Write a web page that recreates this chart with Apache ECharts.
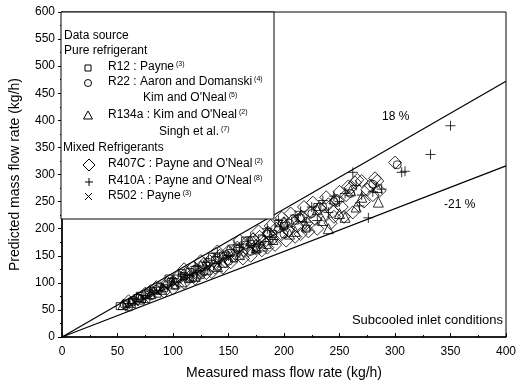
<!DOCTYPE html>
<html>
<head>
<meta charset="utf-8">
<script src="https://cdn.jsdelivr.net/npm/echarts@6/dist/echarts.min.js"></script>
<style>
  html, body { margin: 0; padding: 0; background: #fff; }
  #chart { width: 525px; height: 385px; }
</style>
</head>
<body>
<div id="chart"></div>
<script>
// axis ticks
const xTicks = [0, 50, 100, 150, 200, 250, 300, 350, 400];
const yTicks = [0, 50, 100, 150, 200, 250, 300, 350, 400, 450, 500, 550, 600];

// error bound lines (measured, predicted)
const upperLine = [[0, 0], [400, 472]];   // +18 %
const lowerLine = [[0, 0], [400, 316]];   // -21 %

// R12 : Payne
const r12 = [[52,57],[58,62],[63,65],[68,72],[72,70],[78,82],[82,85],[88,92],[92,90],[98,102],
  [104,108],[110,112],[115,120],[122,126],[130,132],[138,142],[145,150],[152,155],[160,165],
  [170,172],[180,182],[190,190],[200,205],[118,110],[140,130],
  [60,55],[70,76],[76,70],[86,80],[96,108],[102,95],[108,118],[125,115],[135,148],[155,145],
  [165,178],[175,160],[185,170],[195,210],[210,215],[220,200],[230,240]];
// R22 : Aaron and Domanski, Kim and O'Neal
const r22 = [[56,60],[64,68],[75,78],[85,88],[95,98],[108,112],[120,125],[132,138],[148,152],
  [165,170],[185,190],[205,210],[225,228],[245,250],[302,318],[150,140],[175,165],[200,190],
  [70,72],[80,76],[100,104],[115,108],[128,120],[140,146],[158,162],[170,158],[195,200],
  [215,220],[235,240],[260,265],[280,282]];
// R134a : Kim and O'Neal, Singh et al.
const r134a = [[55,60],[62,64],[70,70],[80,80],[90,88],[100,98],[115,110],[130,125],[145,138],
  [160,152],[175,165],[190,180],[205,190],[220,205],[235,215],[250,228],[255,221],[265,240],
  [284,276],[285,249],[240,200],
  [108,102],[125,132],[150,160],[170,178],[185,195],[200,212],[215,222],[230,235],[245,255],
  [260,270],[120,112],[140,130],[180,168],[210,195],[270,258]];
// R407C : Payne and O'Neal
const r407c = [[95,100],[105,112],[112,118],[118,128],[122,115],[128,135],[133,140],[138,128],
  [142,150],[147,140],[150,158],[155,150],[158,165],[162,155],[165,172],[168,160],[172,180],
  [175,168],[178,185],[182,175],[186,192],[190,182],[193,200],[197,188],[200,210],[204,196],
  [208,215],[212,205],[216,222],[220,210],[224,230],[228,218],[232,238],[236,225],[240,245],
  [244,232],[248,252],[252,240],[256,262],[260,275],[264,285],[270,288],[275,272],[282,293],
  [284,288],[300,322],[135,120],[185,165],[215,190],[245,222],[80,85],[88,90],
  [100,90],[110,125],[120,108],[125,140],[130,118],[140,158],[145,128],[152,138],[160,178],
  [163,145],[170,150],[177,195],[180,160],[188,205],[192,170],[198,220],[202,178],[206,228],
  [210,185],[218,240],[222,195],[226,248],[230,200],[238,258],[242,210],[250,268],[254,222],
  [258,278],[262,230],[266,290],[272,250],[278,280],[280,262],[286,270],[110,100],[85,92],
  [92,84],[75,80],[68,70],[60,66]];
// R410A : Payne and O'Neal
const r410a = [[65,70],[80,85],[100,108],[120,130],[140,155],[155,170],[170,185],[185,200],
  [195,215],[210,225],[225,240],[235,252],[245,260],[262,304],[268,242],[276,220],[288,273],
  [306,304],[309,306],[332,337],[350,390],[255,265],[230,215],[200,200],[150,150],
  [90,92],[110,115],[130,138],[160,165],[175,172],[190,180],[215,232],[220,212],[240,230],
  [250,250],[265,280],[280,268],[270,262],[60,62],[75,72]];
// R502 : Payne
const r502 = [[58,58],[66,64],[74,72],[82,80],[90,86],[98,95],[106,102],[114,110],[122,118],
  [130,128],[140,135],[150,145],
  [62,60],[70,68],[78,76],[86,84],[94,92],[102,98],[110,106],[118,114],[126,122],[135,132],
  [145,142],[160,155],[170,165],[180,175]];

const FONT = '"Liberation Sans", Arial, sans-serif';
const plusPath = 'path://M5,0L5,10M0,5L10,5';
const crossPath = 'path://M0,0L10,10M0,10L10,0';

const chart = echarts.init(document.getElementById('chart'));

function scatter(name, data, symbol, size) {
  return {
    name: name,
    type: 'scatter',
    data: data,
    symbol: symbol,
    symbolSize: size,
    z: 3,
    itemStyle: { color: 'rgba(255,255,255,0)', borderColor: '#000', borderWidth: 1 },
    emphasis: { disabled: true }
  };
}

function line(data) {
  return {
    type: 'line',
    data: data,
    symbol: 'none',
    z: 2,
    lineStyle: { color: '#000', width: 1.2 }
  };
}

// legend text lines
const legendRich = {
  t: { fontFamily: FONT, fontSize: 12, color: '#000' },
  s: { fontFamily: FONT, fontSize: 7, color: '#000', verticalAlign: 'top', padding: [0, 0, 0, 2] }
};
function ltext(x, y, str) {
  return { type: 'text', left: x, top: y, z: 11,
    style: { text: str, rich: legendRich, fontFamily: FONT, fontSize: 12, fill: '#000' } };
}
const iconStyle = { fill: 'none', stroke: '#000', lineWidth: 1 };

const option = {
  animation: false,
  textStyle: { fontFamily: FONT },
  grid: { left: 61, right: 19, top: 12, bottom: 46, show: true, borderColor: '#000', borderWidth: 1 },
  xAxis: {
    type: 'value', min: 0, max: 400, interval: 50,
    name: 'Measured mass flow rate (kg/h)', nameLocation: 'middle', nameGap: 29,
    nameTextStyle: { fontSize: 14, color: '#000', fontFamily: FONT },
    axisLine: { lineStyle: { color: '#000', width: 1.5 } },
    axisTick: { inside: true, length: 4, lineStyle: { color: '#000' } },
    minorTick: { show: true, splitNumber: 2, length: 2, lineStyle: { color: '#000' } },
    axisLabel: { fontSize: 12, color: '#000', margin: 9, fontFamily: FONT },
    splitLine: { show: false }
  },
  yAxis: {
    type: 'value', min: 0, max: 600, interval: 50,
    name: 'Predicted mass flow rate (kg/h)', nameLocation: 'middle', nameGap: 40,
    nameTextStyle: { fontSize: 14, color: '#000', fontFamily: FONT },
    axisLine: { lineStyle: { color: '#000', width: 1.5 } },
    axisTick: { inside: false, length: 4, lineStyle: { color: '#000' } },
    minorTick: { show: true, splitNumber: 2, length: 2, lineStyle: { color: '#000' } },
    axisLabel: { fontSize: 12, color: '#000', margin: 7, fontFamily: FONT },
    splitLine: { show: false }
  },
  series: [
    line(upperLine),
    line(lowerLine),
    scatter('R12', r12, 'rect', 7),
    scatter('R22', r22, 'circle', 8),
    scatter('R134a', r134a, 'triangle', 10),
    scatter('R407C', r407c, 'diamond', 13),
    scatter('R410A', r410a, plusPath, 10),
    scatter('R502', r502, crossPath, 8)
  ],
  graphic: [
    { type: 'rect', z: 10, shape: { x: 61, y: 12, width: 213, height: 207 },
      style: { fill: '#fff', stroke: '#000', lineWidth: 1 } },
    ltext(64, 30, '{t|Data source}'),
    ltext(64, 45, '{t|Pure refrigerant}'),
    { type: 'rect', z: 11, shape: { x: 85, y: 65, width: 6, height: 6 }, style: iconStyle },
    ltext(108, 61, '{t|R12 : Payne}{s|(3)}'),
    { type: 'circle', z: 11, shape: { cx: 88, cy: 83, r: 3.5 }, style: iconStyle },
    ltext(108, 76, '{t|R22 : Aaron and Domanski}{s|(4)}'),
    ltext(143, 92, '{t|Kim and O\'Neal}{s|(5)}'),
    { type: 'polygon', z: 11, shape: { points: [[88, 111], [92.5, 119], [83.5, 119]] }, style: iconStyle },
    ltext(108, 109, '{t|R134a : Kim and O\'Neal}{s|(2)}'),
    ltext(159, 126, '{t|Singh et al.}{s|(7)}'),
    ltext(63, 142, '{t|Mixed Refrigerants}'),
    { type: 'polygon', z: 11, shape: { points: [[89, 159], [95, 165], [89, 171], [83, 165]] }, style: iconStyle },
    ltext(108, 158, '{t|R407C : Payne and O\'Neal}{s|(2)}'),
    { type: 'polyline', z: 11, shape: { points: [[89, 178], [89, 186]] }, style: iconStyle },
    { type: 'polyline', z: 11, shape: { points: [[85, 182], [93, 182]] }, style: iconStyle },
    ltext(108, 175, '{t|R410A : Payne and O\'Neal}{s|(8)}'),
    { type: 'polyline', z: 11, shape: { points: [[85, 193], [92, 200]] }, style: iconStyle },
    { type: 'polyline', z: 11, shape: { points: [[85, 200], [92, 193]] }, style: iconStyle },
    ltext(108, 190, '{t|R502 : Payne}{s|(3)}'),
    { type: 'text', left: 382, top: 111, z: 11,
      style: { text: '18 %', fontFamily: FONT, fontSize: 12, fill: '#000' } },
    { type: 'text', left: 444, top: 199, z: 11,
      style: { text: '-21 %', fontFamily: FONT, fontSize: 12, fill: '#000' } },
    { type: 'text', right: 22, top: 314, z: 11,
      style: { text: 'Subcooled inlet conditions', fontFamily: FONT, fontSize: 13, fill: '#000' } }
  ]
};

chart.setOption(option);
</script>
</body>
</html>
